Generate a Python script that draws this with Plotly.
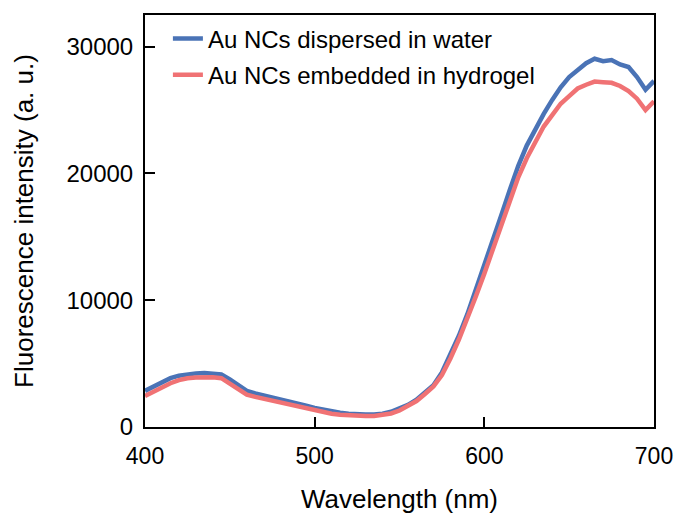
import plotly.graph_objects as go

wavelength = [400, 405, 410, 415, 420, 425, 430, 435, 440, 445, 450, 455, 460, 465, 470,
              475, 480, 485, 490, 495, 500, 505, 510, 515, 520, 525, 530, 535, 540, 545,
              550, 555, 560, 565, 570, 575, 580, 585, 590, 595, 600, 605, 610, 615, 620,
              625, 630, 635, 640, 645, 650, 655, 660, 665, 670, 675, 680, 685, 690, 695, 700]

water = [2850, 3200, 3550, 3850, 4050, 4180, 4230, 4260, 4230, 4150, 3750, 3250, 2850, 2650, 2500,
         2300, 2150, 2000, 1850, 1680, 1500, 1350, 1230, 1130, 1050, 1000, 980, 990, 1050, 1200,
         1450, 1750, 2150, 2700, 3300, 4300, 5700, 7200, 8900, 10800, 12700, 14700, 16700, 18700, 20600,
         22200, 23500, 24700, 25800, 26800, 27600, 28200, 28700, 29050, 28850, 28950, 28600, 28400, 27600, 26600, 27300]

hydrogel = [2450, 2800, 3150, 3450, 3700, 3850, 3900, 3950, 3920, 3850, 3450, 2950, 2550, 2380, 2230,
            2050, 1900, 1750, 1600, 1430, 1270, 1150, 1050, 970, 920, 880, 860, 870, 930, 1070,
            1300, 1650, 2050, 2600, 3200, 4100, 5400, 6900, 8500, 10300, 12100, 14000, 15900, 17900, 19700,
            21200, 22500, 23700, 24600, 25500, 26100, 26700, 27000, 27250, 27200, 27150, 26900, 26500, 25900, 25000, 25700]

series_names = ["Au NCs dispersed in water", "Au NCs embedded in hydrogel"]
x_ticks = [400, 500, 600, 700]
y_ticks = [0, 10000, 20000, 30000]

fig = go.Figure()
fig.add_trace(go.Scatter(x=wavelength, y=water, mode="lines", name=series_names[0],
                         line=dict(color="#4a73b6", width=4.5), legend="legend"))
fig.add_trace(go.Scatter(x=wavelength, y=hydrogel, mode="lines", name=series_names[1],
                         line=dict(color="#f07274", width=4.5), legend="legend2"))

font_family = "Liberation Sans, Arial, sans-serif"
leg_common = dict(xanchor="left", yanchor="middle", bgcolor="rgba(0,0,0,0)",
                  font=dict(size=24), itemwidth=30, borderwidth=0)
fig.update_layout(
    width=675, height=514,
    margin=dict(l=145, r=21, t=15, b=87),
    paper_bgcolor="white", plot_bgcolor="white",
    font=dict(family=font_family, color="black", size=24),
    showlegend=True,
    legend=dict(x=0.045, y=0.942, **leg_common),
    legend2=dict(x=0.045, y=0.854, **leg_common),
    xaxis=dict(range=[400, 700], tickvals=x_ticks, ticks="inside",
               ticklen=10, tickwidth=1.5,
               tickcolor="black", showline=True, linecolor="black", linewidth=2, mirror=True,
               showgrid=False, zeroline=False, tickfont=dict(size=23), automargin=False,
               ticklabelstandoff=7, ticklabeloverflow="allow",
               title=dict(text="Wavelength (nm)", font=dict(size=26), standoff=25)),
    yaxis=dict(range=[0, 32500], tickvals=y_ticks, tickformat="d", ticks="inside", ticklen=10,
               tickwidth=1.5, tickcolor="black", showline=True, linecolor="black", linewidth=2,
               mirror=True, showgrid=False, zeroline=False, tickfont=dict(size=24), automargin=False,
               ticklabelstandoff=5,
               title=dict(text="Fluorescence intensity (a. u.)", font=dict(size=26), standoff=25)),
)

fig.write_html("out.html", config={"displayModeBar": False},
               post_script="document.body.style.margin='0';document.body.style.overflow='hidden';")
